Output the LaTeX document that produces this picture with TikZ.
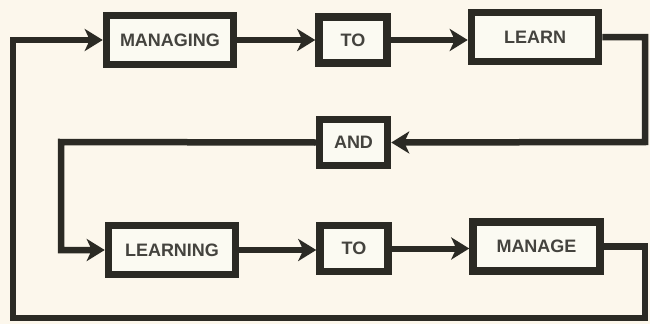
\documentclass[tikz,border=0pt]{standalone}
\usepackage{fontspec}
\setmainfont{Liberation Sans}
\usetikzlibrary{arrows.meta}
\definecolor{paper}{HTML}{FCF7EC}
\definecolor{boxfill}{HTML}{FBFAF2}
\definecolor{ink}{HTML}{2B2A24}
\definecolor{txt}{HTML}{44433E}
\begin{document}
\begin{tikzpicture}[x=1pt,y=-1pt,
  wordbox/.style={draw=ink, fill=boxfill, line width=7.5pt, rectangle,
    minimum height=49pt, inner sep=0pt, text=txt,
    font=\fontsize{18}{21}\selectfont\bfseries},
  bigbox/.style={wordbox, minimum width=127pt},
  smallbox/.style={wordbox, minimum width=68pt, minimum height=46pt},
  flow/.style={draw=ink, line width=6pt, line join=miter,
    -{Stealth[length=18pt,width=22pt,inset=5pt]}},
  loopline/.style={flow, line width=6.5pt}]
\fill[paper] (0,0) rectangle (650,324);
\useasboundingbox (0,0) rectangle (650,324);

\node[bigbox]   (managing) at (170,40)   {MANAGING};
\node[smallbox] (to1)      at (353,40)   {TO};
\node[bigbox]   (learn)    at (535,37)   {LEARN};
\node[smallbox] (and)      at (353.5,142.5) {AND};
\node[bigbox]   (learning) at (172,250)  {LEARNING};
\node[smallbox] (to2)      at (354,248.5) {TO};
\node[bigbox]   (manage)   at (536.5,246.5) {MANAGE};

\coordinate (r1) at (645,142);
\coordinate (l1) at (61,142);
\coordinate (br) at (645,318);
\coordinate (bl) at (13,318);

\draw[flow] (managing.east) -- (managing.east -| to1.west);
\draw[flow] (to1.east) -- (to1.east -| learn.west);
\draw[loopline] (learn.east) -| (r1) -- (and.east);
\draw[loopline] (and.west) -- (l1) |- (learning.west);
\draw[flow] (learning.east) -- (learning.east -| to2.west);
\draw[flow] (to2.east) -- (to2.east -| manage.west);
\draw[loopline] (manage.east) -| (br) -- (bl) |- (managing.west);
\end{tikzpicture}
\end{document}
